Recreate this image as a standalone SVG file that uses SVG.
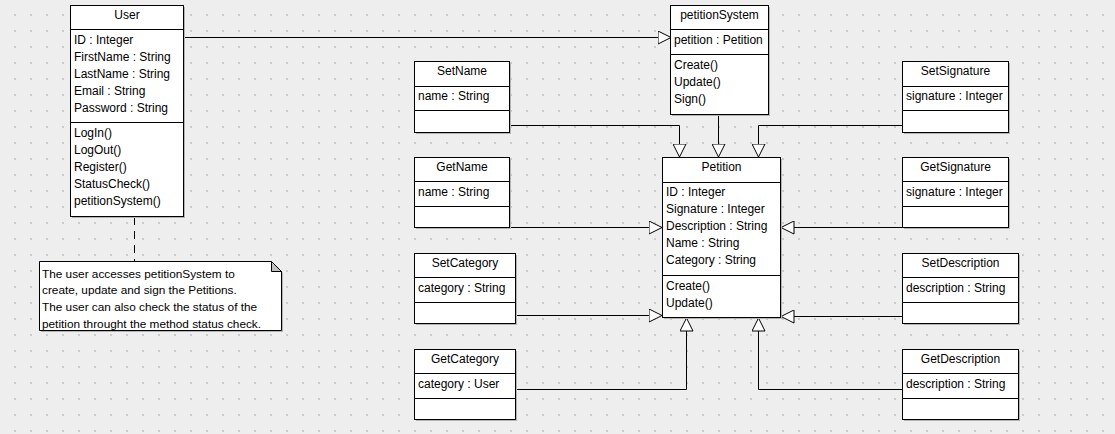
<svg xmlns="http://www.w3.org/2000/svg" width="1115" height="434" viewBox="0 0 1115 434">
<style>
text{font-family:"Liberation Sans",Arial,sans-serif;font-size:12px;fill:#000}
.h{text-anchor:middle}
.n{font-size:11.8px}
.box{fill:#fff;stroke:#000;stroke-width:1}
.sh{fill:#b4b4b4}
.sep{stroke:#000;stroke-width:1}
.c{fill:none;stroke:#000;stroke-width:1}
</style>
<defs>
<pattern id="grid" patternUnits="userSpaceOnUse" x="0" y="0" width="16" height="16">
<rect x="14" y="14" width="2" height="2" fill="#cbcbcb"/>
</pattern>
<marker id="tri" markerUnits="userSpaceOnUse" viewBox="0 0 14 14" refX="13.5" refY="7" markerWidth="14" markerHeight="14" orient="auto">
<path d="M0.5,0.5 L13.5,7 L0.5,13.5 Z" fill="#fff" stroke="#000" stroke-width="1"/>
</marker>
</defs>
<rect width="1115" height="434" fill="#eeeeee"/>
<rect width="1115" height="434" fill="url(#grid)"/>

<g id="connectors">
<path class="c" d="M183,37.5 H671" marker-end="url(#tri)"/>
<path class="c" d="M509,125.5 H679.5 V157" marker-end="url(#tri)"/>
<path class="c" d="M718.5,114 V157" marker-end="url(#tri)"/>
<path class="c" d="M902,125.5 H758.5 V157" marker-end="url(#tri)"/>
<path class="c" d="M509,227.5 H662" marker-end="url(#tri)"/>
<path class="c" d="M902,227.5 H781" marker-end="url(#tri)"/>
<path class="c" d="M515,315.5 H662" marker-end="url(#tri)"/>
<path class="c" d="M902,316.5 H781" marker-end="url(#tri)"/>
<path class="c" d="M515,389.5 H686.5 V318" marker-end="url(#tri)"/>
<path class="c" d="M902,389.5 H758.5 V318" marker-end="url(#tri)"/>
<path class="c" d="M134.5,217 V261" stroke-dasharray="8,6"/>
</g>

<g id="User">
<rect class="sh" x="72" y="7" width="113" height="211"/>
<rect class="box" x="70.5" y="5.5" width="113" height="211"/>
<line class="sep" x1="70" y1="29.5" x2="184" y2="29.5"/>
<line class="sep" x1="70" y1="122.5" x2="184" y2="122.5"/>
<text class="h" x="127" y="18.5">User</text>
<text x="74" y="44">ID : Integer</text>
<text x="74" y="61">FirstName : String</text>
<text x="74" y="78">LastName : String</text>
<text x="74" y="95">Email : String</text>
<text x="74" y="112">Password : String</text>
<text x="74" y="137">LogIn()</text>
<text x="74" y="154">LogOut()</text>
<text x="74" y="171">Register()</text>
<text x="74" y="188">StatusCheck()</text>
<text x="74" y="205">petitionSystem()</text>
</g>

<g id="petitionSystem">
<rect class="sh" x="672" y="7" width="98" height="109"/>
<rect class="box" x="670.5" y="5.5" width="98" height="109"/>
<line class="sep" x1="670" y1="29.5" x2="769" y2="29.5"/>
<line class="sep" x1="670" y1="54.5" x2="769" y2="54.5"/>
<text class="h" x="719.5" y="18.5">petitionSystem</text>
<text x="674" y="44">petition : Petition</text>
<text x="674" y="69">Create()</text>
<text x="674" y="86">Update()</text>
<text x="674" y="103">Sign()</text>
</g>

<g id="Petition">
<rect class="sh" x="664" y="159" width="118" height="160"/>
<rect class="box" x="662.5" y="157.5" width="118" height="160"/>
<line class="sep" x1="662" y1="182.5" x2="781" y2="182.5"/>
<line class="sep" x1="662" y1="275.5" x2="781" y2="275.5"/>
<text class="h" x="721.5" y="171">Petition</text>
<text x="666" y="196">ID : Integer</text>
<text x="666" y="213">Signature : Integer</text>
<text x="666" y="230">Description : String</text>
<text x="666" y="247">Name : String</text>
<text x="666" y="264">Category : String</text>
<text x="666" y="290">Create()</text>
<text x="666" y="307">Update()</text>
</g>

<g id="SetName">
<rect class="sh" x="416" y="63" width="95" height="71"/>
<rect class="box" x="414.5" y="61.5" width="95" height="71"/>
<line class="sep" x1="414" y1="86.5" x2="510" y2="86.5"/>
<line class="sep" x1="414" y1="110.5" x2="510" y2="110.5"/>
<text class="h" x="462" y="74.5">SetName</text>
<text x="418" y="100">name : String</text>
</g>

<g id="GetName">
<rect class="sh" x="416" y="159" width="95" height="70"/>
<rect class="box" x="414.5" y="157.5" width="95" height="70"/>
<line class="sep" x1="414" y1="181.5" x2="510" y2="181.5"/>
<line class="sep" x1="414" y1="206.5" x2="510" y2="206.5"/>
<text class="h" x="462" y="170.5">GetName</text>
<text x="418" y="196">name : String</text>
</g>

<g id="SetCategory">
<rect class="sh" x="416" y="255" width="101" height="70"/>
<rect class="box" x="414.5" y="253.5" width="101" height="70"/>
<line class="sep" x1="414" y1="277.5" x2="516" y2="277.5"/>
<line class="sep" x1="414" y1="302.5" x2="516" y2="302.5"/>
<text class="h" x="465" y="266.5">SetCategory</text>
<text x="418" y="292">category : String</text>
</g>

<g id="GetCategory">
<rect class="sh" x="416" y="351" width="101" height="70"/>
<rect class="box" x="414.5" y="349.5" width="101" height="70"/>
<line class="sep" x1="414" y1="373.5" x2="516" y2="373.5"/>
<line class="sep" x1="414" y1="398.5" x2="516" y2="398.5"/>
<text class="h" x="465" y="362.5">GetCategory</text>
<text x="418" y="388">category : User</text>
</g>

<g id="SetSignature">
<rect class="sh" x="904" y="63" width="106" height="71"/>
<rect class="box" x="902.5" y="61.5" width="106" height="71"/>
<line class="sep" x1="902" y1="86.5" x2="1009" y2="86.5"/>
<line class="sep" x1="902" y1="110.5" x2="1009" y2="110.5"/>
<text class="h" x="955.5" y="74.5">SetSignature</text>
<text x="906" y="100">signature : Integer</text>
</g>

<g id="GetSignature">
<rect class="sh" x="904" y="159" width="106" height="70"/>
<rect class="box" x="902.5" y="157.5" width="106" height="70"/>
<line class="sep" x1="902" y1="181.5" x2="1009" y2="181.5"/>
<line class="sep" x1="902" y1="206.5" x2="1009" y2="206.5"/>
<text class="h" x="955.5" y="170.5">GetSignature</text>
<text x="906" y="196">signature : Integer</text>
</g>

<g id="SetDescription">
<rect class="sh" x="904" y="255" width="116" height="70"/>
<rect class="box" x="902.5" y="253.5" width="116" height="70"/>
<line class="sep" x1="902" y1="277.5" x2="1019" y2="277.5"/>
<line class="sep" x1="902" y1="302.5" x2="1019" y2="302.5"/>
<text class="h" x="960.5" y="266.5">SetDescription</text>
<text x="906" y="292">description : String</text>
</g>

<g id="GetDescription">
<rect class="sh" x="904" y="351" width="116" height="70"/>
<rect class="box" x="902.5" y="349.5" width="116" height="70"/>
<line class="sep" x1="902" y1="373.5" x2="1019" y2="373.5"/>
<line class="sep" x1="902" y1="398.5" x2="1019" y2="398.5"/>
<text class="h" x="960.5" y="362.5">GetDescription</text>
<text x="906" y="388">description : String</text>
</g>

<g id="Note">
<path class="sh" d="M41,263 H273 L283,273 V332 H41 Z"/>
<path class="box" d="M39.5,261.5 H271.5 L281.5,271.5 V330.5 H39.5 Z"/>
<path d="M271.5,261.5 V271.5 H281.5 Z" fill="#c0c0c0" stroke="#000" stroke-width="1"/>
<text class="n" x="42" y="277.5">The user accesses petitionSystem to</text>
<text class="n" x="42" y="294">create, update and sign the Petitions.</text>
<text class="n" x="42" y="311">The user can also check the status of the</text>
<text class="n" x="42" y="327.5">petition throught the method status check.</text>
</g>
</svg>
